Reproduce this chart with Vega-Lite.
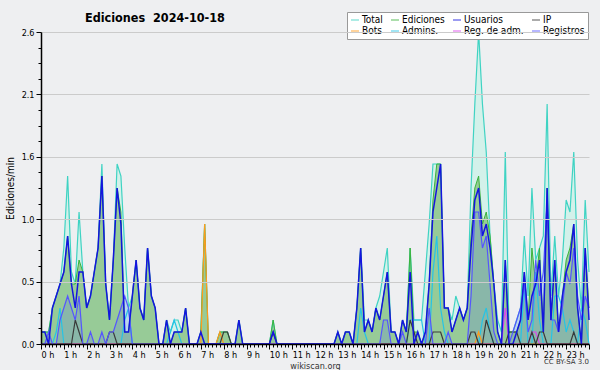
{
"$schema": "https://vega.github.io/schema/vega-lite/v6.json",
"width": 548, "height": 312,
"autosize": {"type": "none"},
"padding": {"left": 41, "top": 32, "right": 11, "bottom": 26},
"background": "#eeeff1",
"config": {"view": {"stroke": null}},
"title": {"text": "Ediciones\u00a0 2024-10-18", "anchor": "start", "frame": "group", "dx": 44, "offset": -13, "font": "DejaVu Sans Condensed", "fontSize": 12.5, "fontWeight": "bold", "color": "#000000"},
"data": {"values": [
{"t":0,"tot":0.1,"edi":0.1,"usu":0.1,"ip":0,"bot":0,"adm":0,"rda":0,"reg":0},
{"t":10,"tot":0.1,"edi":0.1,"usu":0.1,"ip":0,"bot":0,"adm":0,"rda":0,"reg":0},
{"t":20,"tot":0.1,"edi":0.1,"usu":0,"ip":0,"bot":0,"adm":0,"rda":0,"reg":0.1},
{"t":30,"tot":0.3,"edi":0.3,"usu":0.3,"ip":0,"bot":0,"adm":0,"rda":0,"reg":0},
{"t":40,"tot":0.4,"edi":0.4,"usu":0.4,"ip":0,"bot":0,"adm":0.1,"rda":0,"reg":0},
{"t":50,"tot":0.5,"edi":0.5,"usu":0.5,"ip":0,"bot":0,"adm":0.3,"rda":0,"reg":0.2},
{"t":60,"tot":0.8,"edi":0.6,"usu":0.6,"ip":0,"bot":0,"adm":0,"rda":0,"reg":0.3},
{"t":70,"tot":1.4,"edi":0.9,"usu":0.9,"ip":0,"bot":0,"adm":0,"rda":0,"reg":0.4},
{"t":80,"tot":0.6,"edi":0.5,"usu":0.5,"ip":0,"bot":0,"adm":0,"rda":0,"reg":0.3},
{"t":90,"tot":0.5,"edi":0.5,"usu":0.3,"ip":0.2,"bot":0,"adm":0,"rda":0,"reg":0.2},
{"t":100,"tot":1.1,"edi":0.7,"usu":0.6,"ip":0.1,"bot":0,"adm":0,"rda":0,"reg":0.4},
{"t":110,"tot":0.6,"edi":0.6,"usu":0.6,"ip":0,"bot":0,"adm":0,"rda":0,"reg":0},
{"t":120,"tot":0.3,"edi":0.3,"usu":0.3,"ip":0,"bot":0,"adm":0,"rda":0,"reg":0},
{"t":130,"tot":0.4,"edi":0.4,"usu":0.4,"ip":0,"bot":0,"adm":0,"rda":0,"reg":0.1},
{"t":140,"tot":0.6,"edi":0.6,"usu":0.6,"ip":0,"bot":0,"adm":0,"rda":0,"reg":0},
{"t":150,"tot":0.8,"edi":0.8,"usu":0.8,"ip":0,"bot":0,"adm":0,"rda":0,"reg":0},
{"t":160,"tot":1.5,"edi":1.4,"usu":1.4,"ip":0,"bot":0,"adm":0,"rda":0,"reg":0.1},
{"t":170,"tot":0.5,"edi":0.5,"usu":0.5,"ip":0,"bot":0,"adm":0,"rda":0,"reg":0},
{"t":180,"tot":0.2,"edi":0.2,"usu":0.2,"ip":0.1,"bot":0,"adm":0,"rda":0,"reg":0.1},
{"t":190,"tot":0.7,"edi":0.7,"usu":0.7,"ip":0.1,"bot":0,"adm":0,"rda":0,"reg":0.1},
{"t":200,"tot":1.5,"edi":1.3,"usu":1.3,"ip":0,"bot":0,"adm":0,"rda":0,"reg":0.2},
{"t":210,"tot":1.4,"edi":1.1,"usu":1.0,"ip":0,"bot":0,"adm":0,"rda":0,"reg":0.3},
{"t":220,"tot":0.8,"edi":0.1,"usu":0.1,"ip":0,"bot":0,"adm":0.2,"rda":0,"reg":0.4},
{"t":230,"tot":0.3,"edi":0.1,"usu":0.1,"ip":0,"bot":0,"adm":0.3,"rda":0,"reg":0.3},
{"t":240,"tot":0.4,"edi":0.4,"usu":0.4,"ip":0,"bot":0,"adm":0,"rda":0,"reg":0},
{"t":250,"tot":0.7,"edi":0.7,"usu":0.7,"ip":0,"bot":0,"adm":0,"rda":0,"reg":0},
{"t":260,"tot":0.3,"edi":0.3,"usu":0.3,"ip":0,"bot":0,"adm":0,"rda":0,"reg":0},
{"t":270,"tot":0.2,"edi":0.2,"usu":0.2,"ip":0,"bot":0,"adm":0,"rda":0,"reg":0},
{"t":280,"tot":0.8,"edi":0.8,"usu":0.8,"ip":0,"bot":0,"adm":0,"rda":0,"reg":0},
{"t":290,"tot":0.4,"edi":0.4,"usu":0.4,"ip":0,"bot":0,"adm":0,"rda":0,"reg":0},
{"t":300,"tot":0.3,"edi":0.3,"usu":0.3,"ip":0,"bot":0,"adm":0,"rda":0,"reg":0},
{"t":310,"tot":0,"edi":0,"usu":0,"ip":0,"bot":0,"adm":0,"rda":0,"reg":0},
{"t":320,"tot":0,"edi":0,"usu":0,"ip":0,"bot":0,"adm":0,"rda":0,"reg":0},
{"t":330,"tot":0.2,"edi":0.2,"usu":0.2,"ip":0,"bot":0,"adm":0,"rda":0,"reg":0},
{"t":340,"tot":0.1,"edi":0,"usu":0,"ip":0,"bot":0,"adm":0.1,"rda":0,"reg":0},
{"t":350,"tot":0.2,"edi":0.1,"usu":0.1,"ip":0,"bot":0,"adm":0.2,"rda":0,"reg":0},
{"t":360,"tot":0.2,"edi":0.1,"usu":0.1,"ip":0,"bot":0,"adm":0.1,"rda":0,"reg":0},
{"t":370,"tot":0.1,"edi":0.1,"usu":0.1,"ip":0,"bot":0,"adm":0,"rda":0,"reg":0},
{"t":380,"tot":0.3,"edi":0.3,"usu":0.3,"ip":0,"bot":0,"adm":0,"rda":0,"reg":0},
{"t":390,"tot":0,"edi":0,"usu":0,"ip":0,"bot":0,"adm":0,"rda":0,"reg":0},
{"t":400,"tot":0,"edi":0,"usu":0,"ip":0,"bot":0,"adm":0,"rda":0,"reg":0},
{"t":410,"tot":0,"edi":0,"usu":0,"ip":0,"bot":0,"adm":0,"rda":0,"reg":0},
{"t":420,"tot":0.1,"edi":0.1,"usu":0.1,"ip":0,"bot":0,"adm":0,"rda":0,"reg":0},
{"t":430,"tot":1.0,"edi":1.0,"usu":0,"ip":0,"bot":1.0,"adm":0,"rda":0,"reg":0},
{"t":440,"tot":0,"edi":0,"usu":0,"ip":0,"bot":0,"adm":0,"rda":0,"reg":0},
{"t":450,"tot":0,"edi":0,"usu":0,"ip":0,"bot":0,"adm":0,"rda":0,"reg":0},
{"t":460,"tot":0,"edi":0,"usu":0,"ip":0,"bot":0,"adm":0,"rda":0,"reg":0},
{"t":470,"tot":0.1,"edi":0.1,"usu":0,"ip":0,"bot":0.1,"adm":0,"rda":0,"reg":0},
{"t":480,"tot":0.1,"edi":0.1,"usu":0,"ip":0.1,"bot":0,"adm":0,"rda":0,"reg":0},
{"t":490,"tot":0.1,"edi":0.1,"usu":0,"ip":0.1,"bot":0,"adm":0,"rda":0,"reg":0},
{"t":500,"tot":0,"edi":0,"usu":0,"ip":0,"bot":0,"adm":0,"rda":0,"reg":0},
{"t":510,"tot":0,"edi":0,"usu":0,"ip":0,"bot":0,"adm":0,"rda":0,"reg":0},
{"t":520,"tot":0.2,"edi":0.2,"usu":0.2,"ip":0,"bot":0,"adm":0,"rda":0,"reg":0},
{"t":530,"tot":0,"edi":0,"usu":0,"ip":0,"bot":0,"adm":0,"rda":0,"reg":0},
{"t":540,"tot":0,"edi":0,"usu":0,"ip":0,"bot":0,"adm":0,"rda":0,"reg":0},
{"t":550,"tot":0,"edi":0,"usu":0,"ip":0,"bot":0,"adm":0,"rda":0,"reg":0},
{"t":560,"tot":0,"edi":0,"usu":0,"ip":0,"bot":0,"adm":0,"rda":0,"reg":0},
{"t":570,"tot":0,"edi":0,"usu":0,"ip":0,"bot":0,"adm":0,"rda":0,"reg":0},
{"t":580,"tot":0,"edi":0,"usu":0,"ip":0,"bot":0,"adm":0,"rda":0,"reg":0},
{"t":590,"tot":0,"edi":0,"usu":0,"ip":0,"bot":0,"adm":0,"rda":0,"reg":0},
{"t":600,"tot":0,"edi":0,"usu":0,"ip":0,"bot":0,"adm":0,"rda":0,"reg":0},
{"t":610,"tot":0.2,"edi":0.2,"usu":0.1,"ip":0.1,"bot":0,"adm":0,"rda":0,"reg":0},
{"t":620,"tot":0,"edi":0,"usu":0,"ip":0,"bot":0,"adm":0,"rda":0,"reg":0},
{"t":630,"tot":0,"edi":0,"usu":0,"ip":0,"bot":0,"adm":0,"rda":0,"reg":0},
{"t":640,"tot":0,"edi":0,"usu":0,"ip":0,"bot":0,"adm":0,"rda":0,"reg":0},
{"t":650,"tot":0,"edi":0,"usu":0,"ip":0,"bot":0,"adm":0,"rda":0,"reg":0},
{"t":660,"tot":0,"edi":0,"usu":0,"ip":0,"bot":0,"adm":0,"rda":0,"reg":0},
{"t":670,"tot":0,"edi":0,"usu":0,"ip":0,"bot":0,"adm":0,"rda":0,"reg":0},
{"t":680,"tot":0,"edi":0,"usu":0,"ip":0,"bot":0,"adm":0,"rda":0,"reg":0},
{"t":690,"tot":0,"edi":0,"usu":0,"ip":0,"bot":0,"adm":0,"rda":0,"reg":0},
{"t":700,"tot":0,"edi":0,"usu":0,"ip":0,"bot":0,"adm":0,"rda":0,"reg":0},
{"t":710,"tot":0,"edi":0,"usu":0,"ip":0,"bot":0,"adm":0,"rda":0,"reg":0},
{"t":720,"tot":0,"edi":0,"usu":0,"ip":0,"bot":0,"adm":0,"rda":0,"reg":0},
{"t":730,"tot":0,"edi":0,"usu":0,"ip":0,"bot":0,"adm":0,"rda":0,"reg":0},
{"t":740,"tot":0,"edi":0,"usu":0,"ip":0,"bot":0,"adm":0,"rda":0,"reg":0},
{"t":750,"tot":0,"edi":0,"usu":0,"ip":0,"bot":0,"adm":0,"rda":0,"reg":0},
{"t":760,"tot":0,"edi":0,"usu":0,"ip":0,"bot":0,"adm":0,"rda":0,"reg":0},
{"t":770,"tot":0,"edi":0,"usu":0,"ip":0,"bot":0,"adm":0,"rda":0,"reg":0},
{"t":780,"tot":0.1,"edi":0.1,"usu":0.1,"ip":0,"bot":0,"adm":0,"rda":0,"reg":0},
{"t":790,"tot":0,"edi":0,"usu":0,"ip":0,"bot":0,"adm":0,"rda":0,"reg":0},
{"t":800,"tot":0.1,"edi":0.1,"usu":0.1,"ip":0,"bot":0,"adm":0,"rda":0,"reg":0},
{"t":810,"tot":0.1,"edi":0.1,"usu":0.1,"ip":0,"bot":0,"adm":0,"rda":0,"reg":0},
{"t":820,"tot":0,"edi":0,"usu":0,"ip":0,"bot":0,"adm":0,"rda":0,"reg":0},
{"t":830,"tot":0.3,"edi":0.3,"usu":0.3,"ip":0,"bot":0,"adm":0,"rda":0,"reg":0},
{"t":840,"tot":0.8,"edi":0.8,"usu":0.8,"ip":0,"bot":0,"adm":0.3,"rda":0,"reg":0},
{"t":850,"tot":0.2,"edi":0.1,"usu":0.1,"ip":0,"bot":0,"adm":0.1,"rda":0,"reg":0},
{"t":860,"tot":0.2,"edi":0.2,"usu":0.2,"ip":0,"bot":0,"adm":0,"rda":0,"reg":0},
{"t":870,"tot":0.1,"edi":0.1,"usu":0.1,"ip":0,"bot":0,"adm":0,"rda":0,"reg":0},
{"t":880,"tot":0.3,"edi":0.3,"usu":0.3,"ip":0,"bot":0,"adm":0,"rda":0,"reg":0},
{"t":890,"tot":0.4,"edi":0.2,"usu":0.2,"ip":0,"bot":0,"adm":0,"rda":0,"reg":0},
{"t":900,"tot":0.6,"edi":0.4,"usu":0.4,"ip":0,"bot":0,"adm":0,"rda":0,"reg":0.2},
{"t":910,"tot":0.8,"edi":0.6,"usu":0.6,"ip":0,"bot":0,"adm":0,"rda":0,"reg":0.2},
{"t":920,"tot":0.1,"edi":0.1,"usu":0.1,"ip":0,"bot":0,"adm":0,"rda":0,"reg":0},
{"t":930,"tot":0.1,"edi":0.1,"usu":0.1,"ip":0,"bot":0,"adm":0,"rda":0,"reg":0},
{"t":940,"tot":0,"edi":0,"usu":0,"ip":0,"bot":0,"adm":0,"rda":0,"reg":0},
{"t":950,"tot":0.2,"edi":0.2,"usu":0.2,"ip":0,"bot":0,"adm":0,"rda":0,"reg":0.1},
{"t":960,"tot":0.1,"edi":0.1,"usu":0.1,"ip":0,"bot":0,"adm":0,"rda":0,"reg":0},
{"t":970,"tot":0.8,"edi":0.8,"usu":0.6,"ip":0.2,"bot":0,"adm":0.2,"rda":0,"reg":0},
{"t":980,"tot":0.2,"edi":0.1,"usu":0,"ip":0.1,"bot":0,"adm":0.2,"rda":0,"reg":0},
{"t":990,"tot":0.2,"edi":0.1,"usu":0.1,"ip":0,"bot":0,"adm":0.2,"rda":0,"reg":0},
{"t":1000,"tot":0.2,"edi":0,"usu":0,"ip":0,"bot":0,"adm":0.2,"rda":0,"reg":0},
{"t":1010,"tot":0.6,"edi":0.1,"usu":0.1,"ip":0,"bot":0,"adm":0,"rda":0,"reg":0},
{"t":1020,"tot":1.0,"edi":0.5,"usu":0.5,"ip":0,"bot":0,"adm":0,"rda":0,"reg":0.3},
{"t":1030,"tot":1.5,"edi":1.2,"usu":1.1,"ip":0.1,"bot":0,"adm":0.6,"rda":0,"reg":0},
{"t":1040,"tot":1.5,"edi":1.5,"usu":1.3,"ip":0.1,"bot":0,"adm":0.9,"rda":0,"reg":0},
{"t":1050,"tot":1.5,"edi":1.5,"usu":1.5,"ip":0.1,"bot":0,"adm":0.3,"rda":0,"reg":0},
{"t":1060,"tot":0.3,"edi":0.3,"usu":0.3,"ip":0,"bot":0,"adm":0.1,"rda":0,"reg":0},
{"t":1070,"tot":0.3,"edi":0.3,"usu":0.3,"ip":0,"bot":0,"adm":0,"rda":0,"reg":0.1},
{"t":1080,"tot":0.2,"edi":0.1,"usu":0.1,"ip":0,"bot":0,"adm":0,"rda":0,"reg":0},
{"t":1090,"tot":0.4,"edi":0.2,"usu":0.2,"ip":0,"bot":0,"adm":0,"rda":0,"reg":0},
{"t":1100,"tot":0.3,"edi":0.3,"usu":0.3,"ip":0,"bot":0,"adm":0,"rda":0,"reg":0},
{"t":1110,"tot":0.2,"edi":0.2,"usu":0.2,"ip":0,"bot":0,"adm":0,"rda":0,"reg":0},
{"t":1120,"tot":0.3,"edi":0.3,"usu":0.3,"ip":0,"bot":0,"adm":0,"rda":0,"reg":0},
{"t":1130,"tot":1.3,"edi":0.9,"usu":0.8,"ip":0.1,"bot":0,"adm":0,"rda":0,"reg":0.4},
{"t":1140,"tot":2.0,"edi":1.3,"usu":1.2,"ip":0.1,"bot":0,"adm":0,"rda":0,"reg":1.1},
{"t":1150,"tot":2.6,"edi":1.4,"usu":1.3,"ip":0,"bot":0.1,"adm":0,"rda":0,"reg":1.1},
{"t":1160,"tot":2.0,"edi":1.0,"usu":0.9,"ip":0,"bot":0,"adm":0.2,"rda":0,"reg":0.8},
{"t":1170,"tot":1.6,"edi":1.1,"usu":1.0,"ip":0.2,"bot":0,"adm":0.3,"rda":0,"reg":0.9},
{"t":1180,"tot":0.9,"edi":0.9,"usu":0.8,"ip":0.1,"bot":0,"adm":0.1,"rda":0,"reg":0.5},
{"t":1190,"tot":0.5,"edi":0.5,"usu":0.5,"ip":0,"bot":0,"adm":0,"rda":0,"reg":0.1},
{"t":1200,"tot":0.2,"edi":0.1,"usu":0.1,"ip":0,"bot":0,"adm":0,"rda":0,"reg":0},
{"t":1210,"tot":0.1,"edi":0,"usu":0,"ip":0,"bot":0,"adm":0,"rda":0,"reg":0},
{"t":1220,"tot":1.6,"edi":0.7,"usu":0.7,"ip":0,"bot":0,"adm":0,"rda":0.3,"reg":0},
{"t":1230,"tot":0.1,"edi":0.1,"usu":0,"ip":0.1,"bot":0,"adm":0,"rda":0,"reg":0},
{"t":1240,"tot":0.1,"edi":0.1,"usu":0,"ip":0.1,"bot":0,"adm":0,"rda":0,"reg":0.1},
{"t":1250,"tot":0.2,"edi":0.1,"usu":0.1,"ip":0.1,"bot":0,"adm":0,"rda":0,"reg":0.2},
{"t":1260,"tot":0.3,"edi":0.2,"usu":0.2,"ip":0,"bot":0,"adm":0,"rda":0,"reg":0.3},
{"t":1270,"tot":0.9,"edi":0.6,"usu":0.6,"ip":0,"bot":0,"adm":0.5,"rda":0,"reg":0.5},
{"t":1280,"tot":0.4,"edi":0.2,"usu":0.2,"ip":0,"bot":0,"adm":0,"rda":0,"reg":0.1},
{"t":1290,"tot":1.3,"edi":0.8,"usu":0.4,"ip":0.1,"bot":0,"adm":0,"rda":0.1,"reg":0.2},
{"t":1300,"tot":0.7,"edi":0.5,"usu":0.5,"ip":0,"bot":0,"adm":0.6,"rda":0.1,"reg":0.7},
{"t":1310,"tot":0.8,"edi":0.8,"usu":0.7,"ip":0.1,"bot":0,"adm":0.2,"rda":0,"reg":0.4},
{"t":1320,"tot":0.9,"edi":0.1,"usu":0.1,"ip":0.1,"bot":0,"adm":0,"rda":0,"reg":0.6},
{"t":1330,"tot":2.0,"edi":1.3,"usu":1.3,"ip":0,"bot":0,"adm":0,"rda":0,"reg":1.2},
{"t":1340,"tot":0.4,"edi":0.2,"usu":0.2,"ip":0,"bot":0,"adm":0,"rda":0,"reg":0.2},
{"t":1350,"tot":0.9,"edi":0.7,"usu":0.7,"ip":0,"bot":0,"adm":0.4,"rda":0,"reg":0.2},
{"t":1360,"tot":0.4,"edi":0.1,"usu":0.1,"ip":0,"bot":0,"adm":0.4,"rda":0,"reg":0.1},
{"t":1370,"tot":0.7,"edi":0.4,"usu":0.4,"ip":0,"bot":0,"adm":0.3,"rda":0,"reg":0.3},
{"t":1380,"tot":1.2,"edi":0.7,"usu":0.6,"ip":0,"bot":0,"adm":0.1,"rda":0,"reg":0.6},
{"t":1390,"tot":1.1,"edi":0.8,"usu":0.7,"ip":0,"bot":0,"adm":0.2,"rda":0,"reg":0.5},
{"t":1400,"tot":1.6,"edi":1.0,"usu":1.0,"ip":0.1,"bot":0,"adm":0.1,"rda":0,"reg":0.8},
{"t":1410,"tot":0.7,"edi":0.3,"usu":0.3,"ip":0,"bot":0,"adm":0,"rda":0,"reg":0.4},
{"t":1420,"tot":0.3,"edi":0,"usu":0,"ip":0,"bot":0,"adm":0.3,"rda":0,"reg":0.2},
{"t":1430,"tot":1.2,"edi":0.8,"usu":0.8,"ip":0,"bot":0,"adm":0.2,"rda":0,"reg":0.4},
{"t":1440,"tot":0.6,"edi":0.3,"usu":0.2,"ip":0,"bot":0,"adm":0,"rda":0,"reg":0.3}
]},
"transform": [{"fold": ["tot","edi","usu","ip","bot","adm","rda","reg"], "as": ["k","v"]}],
"encoding": {
  "x": {"field": "t", "type": "quantitative", "scale": {"domain": [0,1440], "nice": false, "zero": false},
    "axis": {"values": [0,10,20,30,40,50,60,70,80,90,100,110,120,130,140,150,160,170,180,190,200,210,220,230,240,250,260,270,280,290,300,310,320,330,340,350,360,370,380,390,400,410,420,430,440,450,460,470,480,490,500,510,520,530,540,550,560,570,580,590,600,610,620,630,640,650,660,670,680,690,700,710,720,730,740,750,760,770,780,790,800,810,820,830,840,850,860,870,880,890,900,910,920,930,940,950,960,970,980,990,1000,1010,1020,1030,1040,1050,1060,1070,1080,1090,1100,1110,1120,1130,1140,1150,1160,1170,1180,1190,1200,1210,1220,1230,1240,1250,1260,1270,1280,1290,1300,1310,1320,1330,1340,1350,1360,1370,1380,1390,1400,1410,1420,1430,1440],
      "labelExpr": "(datum.value % 60 == 0 && datum.value < 1440) ? (datum.value / 60) + ' h' : ''",
      "labelAlign": "left", "labelDx": -2, "labelPadding": 1, "labelOverlap": false, "labelFlush": false, "labelBound": false,
      "labelFont": "DejaVu Sans Condensed", "labelFontSize": 9, "labelColor": "#000000",
      "tickSize": {"condition": {"test": "datum.value % 60 == 0", "value": 5}, "value": 3},
      "tickColor": "#000000", "tickWidth": 1, "domainColor": "#000000", "domainWidth": 1.5, "grid": false,
      "title": "wikiscan.org", "titleFont": "DejaVu Sans Condensed", "titleFontSize": 9, "titleFontWeight": "normal", "titleColor": "#333333", "titlePadding": 2, "zindex": 1}},
  "y": {"field": "v", "type": "quantitative", "scale": {"domain": [0,2.6], "nice": false, "zero": true},
    "axis": {"values": [0,0.13,0.26,0.39,0.52,0.65,0.78,0.91,1.04,1.17,1.3,1.43,1.56,1.69,1.82,1.95,2.08,2.21,2.34,2.47,2.6],
      "labelExpr": "round(datum.value / 0.13) % 4 == 0 ? format(datum.value, '.1f') : ''",
      "labelFont": "DejaVu Sans Condensed", "labelFontSize": 9, "labelColor": "#000000", "labelPadding": 2, "labelOverlap": false, "labelBound": false, "labelFlush": false,
      "tickSize": {"condition": {"test": "round(datum.value / 0.13) % 4 == 0", "value": 5}, "value": 3},
      "tickColor": "#000000", "domainColor": "#000000", "domainWidth": 1.5,
      "grid": true, "gridColor": "#cbcbcb", "gridWidth": 1,
      "gridOpacity": {"condition": {"test": "round(datum.value / 0.13) % 4 == 0 && datum.value > 0", "value": 1}, "value": 0},
      "title": "Ediciones/min", "titleFont": "DejaVu Sans Condensed", "titleFontSize": 10, "titleFontWeight": "normal", "titleColor": "#000000", "titlePadding": 6, "zindex": 1}}
},
"layer": [
  {"transform": [{"filter": "datum.k == 'tot'"}], "mark": {"type": "area", "color": "#d3f1ea", "opacity": 1}},
  {"transform": [{"filter": "datum.k == 'edi'"}], "mark": {"type": "area", "color": "#97cb97", "opacity": 1}},
  {"transform": [{"filter": "datum.k == 'reg'"}], "mark": {"type": "area", "color": "#4f5fff", "opacity": 0.18}},
  {"transform": [{"filter": "datum.k == 'tot'"}], "mark": {"type": "line", "strokeWidth": 1.2},
   "encoding": {"color": {"datum": "Total", "type": "nominal",
     "scale": {"domain": ["Total","Ediciones","Usuarios","IP","Bots","Admins.","Reg. de adm.","Registros"],
               "range": ["#3fd3c3","#3bb33b","#1414e0","#3a3a3a","#ff9a1a","#25c4e6","#dd44ee","#5555ff"]},
     "legend": {"orient": "none", "legendX": 306, "legendY": -20, "direction": "horizontal", "columns": 4, "title": null,
       "symbolType": "stroke", "symbolSize": 64, "symbolStrokeWidth": 1.2, "symbolOpacity": 0.7,
       "labelFont": "DejaVu Sans Condensed", "labelFontSize": 10, "labelColor": "#000000", "labelOffset": 2,
       "fillColor": "#ffffff", "strokeColor": "#999999", "padding": 3, "rowPadding": 1, "columnPadding": 5}}}},
  {"transform": [{"filter": "datum.k == 'edi'"}], "mark": {"type": "line", "strokeWidth": 1}, "encoding": {"color": {"datum": "Ediciones", "type": "nominal"}}},
  {"transform": [{"filter": "datum.k == 'adm'"}], "mark": {"type": "line", "strokeWidth": 1.2}, "encoding": {"color": {"datum": "Admins.", "type": "nominal"}}},
  {"transform": [{"filter": "datum.k == 'bot'"}], "mark": {"type": "line", "strokeWidth": 1.2}, "encoding": {"color": {"datum": "Bots", "type": "nominal"}}},
  {"transform": [{"filter": "datum.k == 'rda'"}], "mark": {"type": "line", "strokeWidth": 1.2}, "encoding": {"color": {"datum": "Reg. de adm.", "type": "nominal"}}},
  {"transform": [{"filter": "datum.k == 'ip'"}], "mark": {"type": "line", "strokeWidth": 1.2}, "encoding": {"color": {"datum": "IP", "type": "nominal"}}},
  {"transform": [{"filter": "datum.k == 'reg'"}], "mark": {"type": "line", "strokeWidth": 1.2}, "encoding": {"color": {"datum": "Registros", "type": "nominal"}}},
  {"transform": [{"filter": "datum.k == 'usu'"}], "mark": {"type": "line", "strokeWidth": 1.5}, "encoding": {"color": {"datum": "Usuarios", "type": "nominal"}}},
  {"transform": [{"filter": "datum.k == 'tot' && datum.t == 1440"}],
   "mark": {"type": "text", "text": "CC BY-SA 3.0", "align": "right", "baseline": "top", "dy": 14, "font": "DejaVu Sans", "fontSize": 7, "color": "#333333"},
   "encoding": {"y": {"datum": 0}}}
]
}
